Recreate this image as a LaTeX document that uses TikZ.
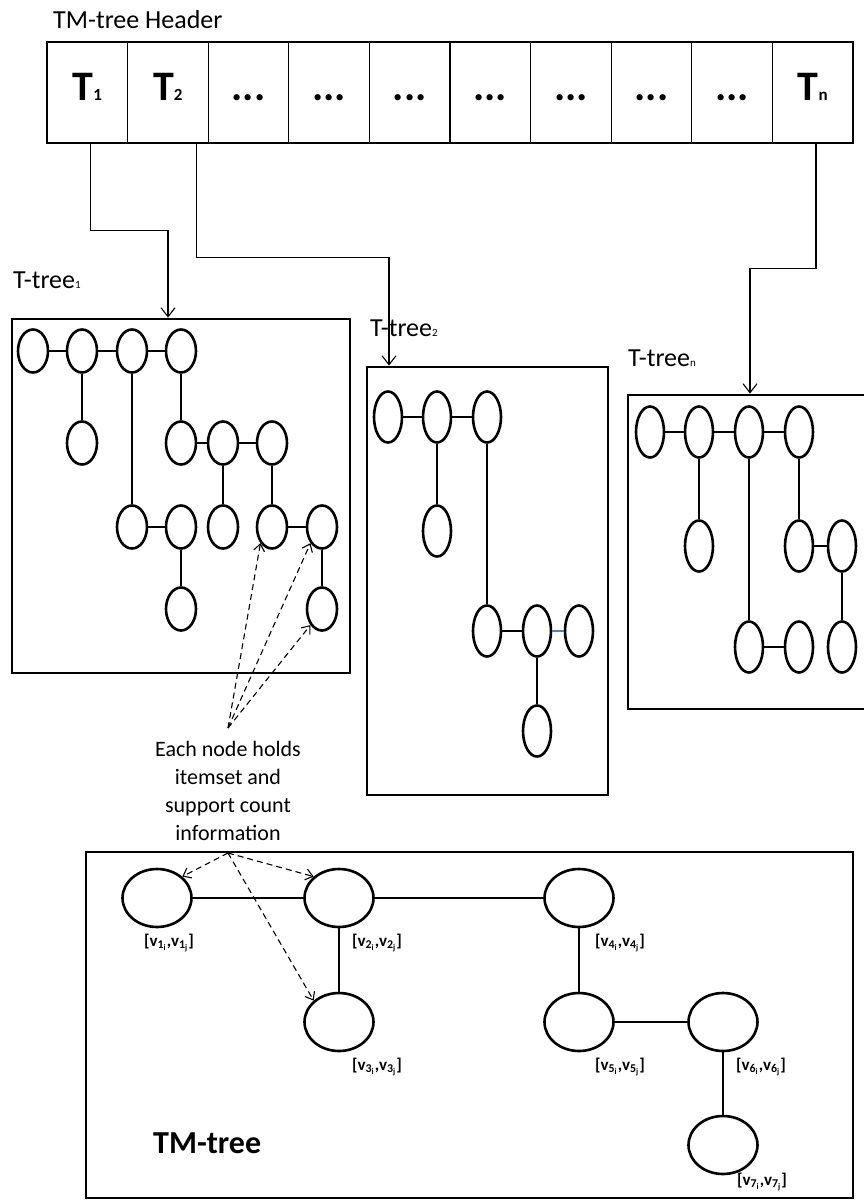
\documentclass[tikz,border=0pt]{standalone}
\usepackage{fontspec}
\setmainfont{Carlito}
\usepackage{xcolor}
\usepackage{tikz}
\usetikzlibrary{arrows.meta,shapes.geometric}

\definecolor{linkblue}{RGB}{79,129,189}
\newcommand{\hsub}[1]{{\fontsize{17}{17}\selectfont #1}}
\newcommand{\tinysub}[1]{{\fontsize{11}{11}\selectfont #1}}
\newcommand{\gap}{...}
\newcommand{\vlab}[1]{[v\textsubscript{#1\textsubscript{i}},v\textsubscript{#1\textsubscript{j}}]}

\begin{document}
\begin{tikzpicture}[x=1pt, y=-1pt,
  every node/.style={inner sep=0pt},
  cell/.style={draw, line width=1.2pt, minimum width=80.6pt, minimum height=101pt,
    text height=26pt, text depth=11pt, font=\bfseries\fontsize{42}{42}\selectfont},
  frame/.style={draw, line width=2.8pt},
  title/.style={anchor=west, font=\fontsize{26}{28}\selectfont},
  item/.style={draw, ellipse, line width=2.6pt, minimum width=30pt, minimum height=43pt},
  tall/.style={item, minimum width=28pt, minimum height=51pt},
  big/.style={draw, ellipse, line width=2.6pt, minimum width=69pt, minimum height=58pt},
  vtag/.style={font=\bfseries\fontsize{17}{17}\selectfont},
  link/.style={line width=1.1pt},
  ptr/.style={line width=1.1pt, -{Straight Barb[length=9pt, width=14pt]}},
  hint/.style={dashed, dash pattern=on 6pt off 4pt, line width=1.1pt,
    -{Straight Barb[length=7pt, width=11pt]}}]
\useasboundingbox (0,0) rectangle (864,1200);

\node[title] (head) at (53,20) {TM-tree Header};
\foreach \i/\lab in {1/T\hsub{1}, 2/T\hsub{2}, 3/\gap, 4/\gap, 5/\gap, 6/\gap,
    7/\gap, 8/\gap, 9/\gap, 10/T\hsub{n}}
  \node[cell] (h\i) at ({47+80.6*(\i-0.5)},92.5) {\lab};

\node[frame, minimum width=338pt, minimum height=354pt] (t1) at (181,496) {};
\node[frame, minimum width=241pt, minimum height=428pt] (t2) at (487.5,581) {};
\node[frame, minimum width=242pt, minimum height=314pt] (tn) at (749,552) {};
\node[title] (lab1) at (13,280) {T-tree\tinysub{1}};
\node[title] (lab2) at (370,328) {T-tree\tinysub{2}};
\node[title] (labn) at (628,358) {T-tree\tinysub{n}};

\draw[ptr] ([xshift=3pt]h1.south) -- ++(0,87) -| ([xshift=-13pt]t1.north);
\draw[ptr] ([xshift=29pt]h2.south) -- ++(0,114) -| ([xshift=-98.5pt]t2.north);
\draw[ptr] ([xshift=3.3pt]h10.south) -- ++(0,125) -| ([xshift=1pt]tn.north);

\foreach \n/\x/\y in {u1/33/351, u2/82/351, u3/132/351, u4/181/351,
    u5/82/443, u6/181/443, u7/223/443, u8/272/443,
    u9/132/527, u10/181/527, u11/223/527, u12/272/527, u13/322/527,
    u14/181/609, u15/322/609}
  \node[item] (\n) at (\x,\y) {};
\foreach \a/\b in {u1/u2, u2/u3, u3/u4, u2/u5, u3/u9, u4/u6, u6/u7, u7/u8,
    u7/u11, u8/u12, u9/u10, u12/u13, u10/u14, u13/u15}
  \draw[link] (\a) -- (\b);

\foreach \n/\x/\y in {w1/388/417, w2/437/417, w3/487/417, w4/437/531,
    w5/487/631, w6/537/631, w7/579/631, w8/537/731}
  \node[tall] (\n) at (\x,\y) {};
\foreach \a/\b in {w1/w2, w2/w3, w2/w4, w3/w5, w5/w6, w6/w8}
  \draw[link] (\a) -- (\b);
\draw[link, linkblue] (w6) -- (w7);

\foreach \n/\x/\y in {z1/650/432, z2/699/432, z3/749/432, z4/799/432,
    z5/699/546, z6/799/546, z7/842/546, z8/749/647, z9/799/647, z10/842/647}
  \node[tall] (\n) at (\x,\y) {};
\foreach \a/\b in {z1/z2, z2/z3, z3/z4, z2/z5, z3/z8, z4/z6, z6/z7, z7/z10, z8/z9}
  \draw[link] (\a) -- (\b);

\node[align=center, font=\fontsize{22}{28}\selectfont] (note) at (228,791)
  {Each node holds\\itemset and\\support count\\information};
\coordinate (fan) at (228,728);
\coordinate (fanb) at (228,853);
\foreach \t in {u12.south west, u13.south west, u15.south west}
  \draw[hint] (fan) -- (\t);

\node[frame, minimum width=767pt, minimum height=346pt] (tm) at (469.5,1025) {};
\node[anchor=west, font=\bfseries\fontsize{32}{34}\selectfont] (tmname) at (153,1143) {TM-tree};
\foreach \n/\x/\y/\lx/\ly in {1/157/898/169/943, 2/339/898/377/943,
    3/339/1022/377/1067, 4/579/898/620/943, 5/579/1022/620/1067,
    6/723/1022/761/1067, 7/723/1145/762/1182} {
  \node[big] (v\n) at (\x,\y) {};
  \node[vtag] (tag\n) at (\lx,\ly) {\vlab{\n}};
}
\foreach \a/\b in {v1/v2, v2/v4, v2/v3, v4/v5, v5/v6, v6/v7}
  \draw[link] (\a) -- (\b);
\foreach \t in {v1.north east, v2.north west, v3.north west}
  \draw[hint] (fanb) -- (\t);
\end{tikzpicture}
\end{document}
